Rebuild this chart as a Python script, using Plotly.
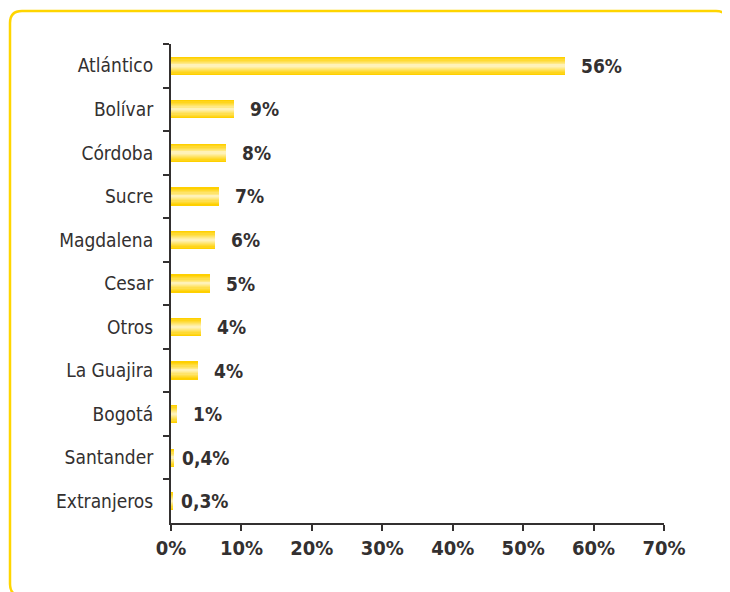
import plotly.graph_objects as go

categories = ["Atlántico", "Bolívar", "Córdoba", "Sucre", "Magdalena", "Cesar",
              "Otros", "La Guajira", "Bogotá", "Santander", "Extranjeros"]
values = [55.9, 8.9, 7.8, 6.8, 6.3, 5.5, 4.3, 3.8, 0.8, 0.4, 0.3]
value_labels = ["56%", "9%", "8%", "7%", "6%", "5%", "4%", "4%", "1%", "0,4%", "0,3%"]
x_tickvals = [0, 10, 20, 30, 40, 50, 60, 70]
x_ticktext = ["0%", "10%", "20%", "30%", "40%", "50%", "60%", "70%"]

# page body has an 8px margin, so the figure is sized/offset to compensate
W, H = 722, 584
ML, MR, MT, MB = 163, 66, 36, 69
FONT = "Liberation Sans Narrow, DejaVu Sans Condensed, Roboto, sans-serif"
DARK = "#333030"

fig = go.Figure()

# layered bars to imitate the vertical gradient of the original
layers = [(0.42, "#FFD000"), (0.36, "#FFD51A"), (0.30, "#FFDA33"), (0.24, "#FFDF4D"),
          (0.18, "#FFE469"), (0.13, "#FFE985"), (0.08, "#FFEEA0"), (0.04, "#FFF2B8")]
for width, color in layers:
    fig.add_trace(go.Bar(
        y=categories, x=values, orientation="h", width=width,
        marker=dict(color=color, line=dict(width=0)),
        hoverinfo="skip", showlegend=False,
    ))

shifts = [14 if v >= 0.75 else 6 for v in values]
for cat, v, lab, s in zip(categories, values, value_labels, shifts):
    fig.add_annotation(x=v, y=cat, text=lab, showarrow=False, xanchor="left",
                       xshift=s, font=dict(family=FONT, size=19, color=DARK, weight="bold"))

pw, ph = W - ML - MR, H - MT - MB
def px(x):
    return (x - ML) / pw
def py(y):
    return (H - MB - y) / ph

x0, x1, y0, y1, r = 2, 720, 3, 588, 12
path = (f"M {px(x0 + r)},{py(y0)} L {px(x1 - r)},{py(y0)} "
        f"Q {px(x1)},{py(y0)} {px(x1)},{py(y0 + r)} L {px(x1)},{py(y1 - r)} "
        f"Q {px(x1)},{py(y1)} {px(x1 - r)},{py(y1)} L {px(x0 + r)},{py(y1)} "
        f"Q {px(x0)},{py(y1)} {px(x0)},{py(y1 - r)} L {px(x0)},{py(y0 + r)} "
        f"Q {px(x0)},{py(y0)} {px(x0 + r)},{py(y0)} Z")
fig.add_shape(type="path", path=path, xref="paper", yref="paper",
              line=dict(color="#FFD500", width=2.5), layer="below")

fig.update_layout(
    width=W, height=H,
    margin=dict(l=ML, r=MR, t=MT, b=MB),
    paper_bgcolor="white", plot_bgcolor="white",
    barmode="overlay", bargap=0,
    font=dict(family=FONT, color=DARK),
    xaxis=dict(range=[0, 70], tickvals=x_tickvals, ticktext=x_ticktext,
               showgrid=False, zeroline=False, showline=True, linecolor=DARK, linewidth=2,
               ticks="outside", ticklen=6, tickwidth=2, tickcolor=DARK,
               tickfont=dict(family=FONT, size=20, color=DARK, weight="bold")),
    yaxis=dict(categoryorder="array", categoryarray=categories, autorange="reversed",
               showgrid=False, zeroline=False, showline=True, linecolor=DARK, linewidth=2,
               ticks="outside", ticklen=6, tickwidth=2, tickcolor=DARK, tickson="boundaries",
               tickfont=dict(family=FONT, size=19, color=DARK), ticklabelstandoff=12),
)

fig.write_html("out.html")
